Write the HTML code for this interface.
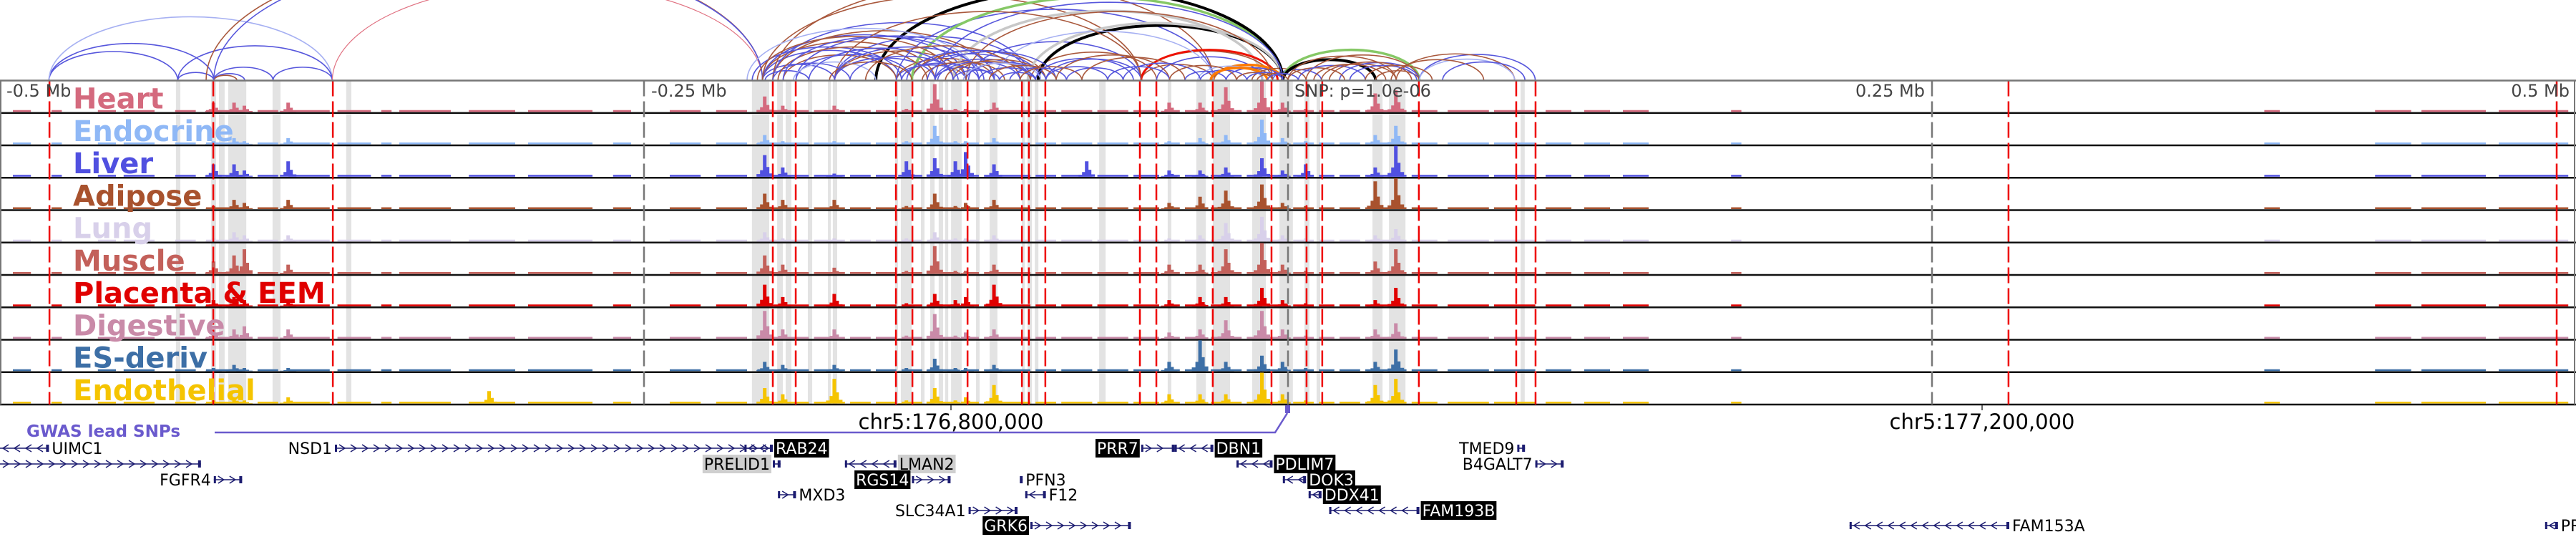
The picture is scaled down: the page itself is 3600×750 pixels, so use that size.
<!DOCTYPE html>
<html><head><meta charset="utf-8"><style>
html,body{margin:0;padding:0;background:#fff;width:3600px;height:750px;overflow:hidden}
svg{display:block}
text{font-family:"DejaVu Sans","Liberation Sans",sans-serif}
</style></head><body>
<svg id="chart" width="3600" height="750" viewBox="0 0 3600 750" xmlns="http://www.w3.org/2000/svg">
<g id="bands"></g>
<g id="arcs"></g>
<g id="tracks"></g>
<g id="vlines"></g>
<g id="labels"></g>
<g id="axis"></g>
<g id="genes"></g>
</svg>
<script>
// ---- data (genomic positions in kb relative to lead SNP) ----
const trackNames = ["Heart","Endocrine","Liver","Adipose","Lung","Muscle","Placenta & EEM","Digestive","ES-deriv","Endothelial"];
const trackColors = ["#d46a7e","#8fb8f6","#5050e0","#a8522e","#d8d0ea","#c3605a","#e00000","#c98aa8","#3d6fa6","#f5c400"];
const peakPos = [-417,-409,-405,-388,-310,-203,-196,-176,-148,-137,-129,-125,-114,-78,-46,-34,-24,-10,-2,7,34,42];
const peakHeart      = [0.3,0.3,0.2,0.3,0,0.5,0.2,0.2,0.1,0.9,0.1,0.1,0.3,0,0.3,0.3,0.8,1.0,0.3,0.1,0.6,0.7];
const peakEndocrine  = [0.1,0.2,0.1,0.2,0,0.3,0.1,0.1,0.1,0.6,0.1,0.1,0.2,0,0.1,0.2,0.3,0.8,0.2,0.1,0.3,0.6];
const peakLiver      = [0.4,0.4,0.2,0.5,0,0.7,0.3,0.1,0.5,0.6,0.5,0.8,0.4,0.5,0.2,0.2,0.3,0.6,0.2,0.4,0.3,1.0];
const peakAdipose    = [0.1,0.3,0.2,0.3,0,0.5,0.3,0.3,0.1,0.5,0.1,0.2,0.3,0,0.2,0.4,0.6,0.8,0.2,0.1,0.9,1.0];
const peakLung       = [0.1,0.3,0.2,0.2,0,0.3,0.1,0.1,0.1,0.3,0.1,0.1,0.2,0,0.1,0.2,0.6,0.8,0.2,0.1,0.2,0.4];
const peakMuscle     = [0.4,0.6,0.8,0.3,0,0.6,0.3,0.2,0.1,0.9,0.1,0.1,0.3,0,0.3,0.3,0.8,1.0,0.3,0.1,0.4,0.8];
const peakPlacenta   = [0.2,0.3,0.2,0.2,0,0.7,0.3,0.4,0.1,0.4,0.2,0.3,0.7,0,0.2,0.3,0.3,0.6,0.2,0.1,0.2,0.6];
const peakDigestive  = [0.3,0.3,0.4,0.3,0,0.9,0.3,0.3,0.1,0.8,0.1,0.2,0.3,0,0.2,0.3,0.6,0.9,0.3,0.1,0.3,0.5];
const peakES         = [0.1,0.2,0.1,0.1,0,0.3,0.2,0.2,0.1,0.4,0.1,0.1,0.2,0,0.3,1.0,0.3,0.5,0.3,0.1,0.3,0.7];
const peakEndothelial= [0.1,0.2,0.1,0.2,0.4,0.5,0.3,0.8,0.1,0.5,0.1,0.2,0.6,0,0.3,0.3,0.3,1.0,0.3,0.1,0.6,0.8];
const trackPeaks = [peakHeart,peakEndocrine,peakLiver,peakAdipose,peakLung,peakMuscle,peakPlacenta,peakDigestive,peakES,peakEndothelial];
const noiseStart = [-495,-480,-462,-452,-432,-420,-400,-388,-369,-352,-345,-318,-295,-262,-240,-222,-206,-184,-170,-160,-150,-140,-126,-118,-98,-88,-74,-60,-48,-40,-30,-16,-8,2,12,20,30,48,62,80,100,115,130,172,379,422,440,470];
const noiseEnd   = [-488,-476,-455,-440,-424,-405,-392,-372,-356,-348,-325,-300,-270,-255,-228,-210,-186,-172,-162,-152,-142,-128,-120,-100,-90,-76,-62,-50,-42,-32,-18,-10,0,10,18,28,46,58,78,96,110,125,140,176,385,436,465,497];
const bandStart = [-431.7,-418,-415,-411.4,-394.2,-365.6,-208.1,-198.3,-195,-186.4,-178.6,-176.7,-152.5,-150.3,-142.5,-138.9,-135.6,-133.1,-130.8,-121.1,-115.8,-103.3,-101.1,-98.3,-73.3,-46.7,-35.6,-29.2,-13.9,-3.3,6.4,11.1,32.8,39.2,90.3];
const bandEnd   = [-430,-416.1,-412.8,-404.4,-391.1,-363.6,-201.4,-196.1,-192.8,-184.7,-177.5,-175,-151.4,-146.1,-141.1,-137.2,-133.9,-131.9,-126.7,-119.7,-112.8,-102.2,-99.4,-96.9,-70.8,-45.3,-31.9,-22.5,-8.6,1.9,8.3,12.5,36.7,45.6,91.9];
const redLines = [-480.8,-417.2,-370.8,-200,-191.1,-152.2,-145.8,-124.4,-103.3,-100.6,-94.2,-57.5,-51.1,-29.2,-6.4,7.2,13.3,50.8,88.6,96.1,279.7,492.5];
const arcStart = [-481,-481,-481,-431,-431,-417,-417,-417,-394,-371,-420,-417,
 -204,-204,-204,-204,-200,-200,-196,-191,-176,-176,-176,-152,-152,-146,-146,-137,-137,-130,-125,-124,-204,-200,-152,-146,-94,-100,-97,-101,-130,-57,-57,-57,-51,-29,-29,-35,-24,-14,-6,-2,-2,0,7,13,20,34,51,42,51,-160,-137,-125,-114,-176,-191,-210,
 -208,-206,-203,-200,-198,-196,-192,-186,-178,-176,-170,-164,-150,-148,-142,-140,-136,-133,-130,-126,-120,-116,-112,-108,-104,-98,-94,-90,-86,-80,-70,-64,-46,-40,-34,-30,-20,-16,-12,-8,0,4,10,16,24,30,40,60];
const arcEnd   = [-417,-431,-371,-371,-417,-394,-405,-408,-371,-204,-204,-204,
 -176,-152,-137,-125,-114,-100,-152,-146,-137,-125,-100,-125,-114,-100,-94,-114,-100,-94,-94,-57,-57,-29,-29,-2,-57,-51,-2,-2,-10,-29,-6,-4,-10,-2,-6,-10,-2,7,13,51,34,42,51,42,51,51,96,88,88,-2,-2,-6,-29,-57,-114,-120,
 -150,-130,-186,-170,-140,-120,-160,-130,-146,-118,-128,-104,-120,-96,-110,-90,-104,-100,-112,-96,-98,-90,-98,-86,-80,-60,-70,-46,-64,-40,-46,-34,-20,-24,-16,-8,-6,-2,0,4,22,30,38,48,50,56,76,92];
const arcColor = [0,0,1,0,0,0,0,2,0,5,2,0,
 0,0,2,0,2,0,2,0,0,2,0,0,2,0,2,0,0,2,0,0,2,2,0,4,0,2,3,7,7,2,2,5,0,6,2,1,0,2,0,4,3,2,2,2,0,2,0,2,1,3,0,2,1,2,0,1,
 0,2,0,0,2,0,1,0,2,0,0,2,0,0,2,0,0,2,0,1,0,2,0,0,2,0,0,2,0,2,0,0,2,0,0,6,2,0,2,0,2,0,2,2,0,2,2,0];
const geneNames = ["UIMC1","NSD1","RAB24","ZNF346","PRELID1","LMAN2","FGFR4","RGS14","MXD3","PFN3","F12","SLC34A1","GRK6","PRR7","DBN1","PDLIM7","DOK3","DDX41","FAM193B","TMED9","B4GALT7","FAM153A","PROP1"];
const geneStart = [-505,-370,-211,-505,-200,-172,-417,-146,-198,-104,-102,-124,-100,-57,-44,-20,-2,8,16,89,96,218,488];
const geneEnd   = [-481,-200,-200,-422,-197,-152,-406,-131,-191,-103,-94,-105,-61,-44,-29,-6,7,13,51,92,107,280,493];
const geneRow   = [0,0,0,1,1,1,2,2,3,2,3,4,5,0,0,1,2,3,4,0,1,5,5];
const geneStrand= [-1,1,-1,1,1,-1,1,1,1,1,-1,1,1,1,-1,-1,-1,-1,-1,1,1,-1,-1];
const geneBox   = [0,0,1,0,2,2,0,1,0,0,0,0,1,1,1,1,1,1,1,0,0,0,0];
const geneLabelRight = [1,0,1,0,0,1,0,0,1,1,1,0,0,0,1,1,1,1,1,0,0,1,1];

// ---- scales ----
const NS="http://www.w3.org/2000/svg";
const xOf = kb => 1800 + kb*3.6;
const TOP=112.5, TH=45.25, NT=10;
const trackTop = i => TOP + i*TH;
const PEAKMAX = 43;
const arcH = span => 0.225*span;
function mk(tag, attrs, parent){const e=document.createElementNS(NS,tag);for(const k in attrs)e.setAttribute(k,attrs[k]);parent.appendChild(e);return e;}

const gBands=document.getElementById('bands'), gArcs=document.getElementById('arcs'),
 gTracks=document.getElementById('tracks'), gV=document.getElementById('vlines'),
 gLab=document.getElementById('labels'), gAxis=document.getElementById('axis'), gGenes=document.getElementById('genes');

for(let i=0;i<bandStart.length;i++){
  const r=mk('rect',{x:xOf(bandStart[i]),y:TOP,width:Math.max(2,xOf(bandEnd[i])-xOf(bandStart[i])),height:TH*NT,fill:'#e3e3e3'},gBands);
  
  
}

const arcPalette=['#5656dc','#a6b0f2','#a9583c','#000000','#86c866','#ee1100','#ff7a00','#c8c8c8'];
const arcWidth=[1.6,1.6,1.6,4,3.5,3,3.5,3.5];
for(let i=0;i<arcStart.length;i++){
  const x1=xOf(arcStart[i]), x2=xOf(arcEnd[i]);
  const rx=(x2-x1)/2, h=arcH(x2-x1);
  let col=arcPalette[arcColor[i]], w=arcWidth[arcColor[i]];
  if(arcColor[i]===5 && x2-x1>500){col='#e07080'; w=1.2;}
  const p=mk('path',{d:`M${x1} ${TOP} A${rx} ${h} 0 0 1 ${x2} ${TOP}`,fill:'none',stroke:col,'stroke-width':w},gArcs);
  
  
}

for(let t=0;t<NT;t++){
  const base=trackTop(t)+TH-1.5;
  const g=mk('g',{},gTracks);
  
  
  for(let i=0;i<noiseStart.length;i++){
    const r=mk('rect',{x:xOf(noiseStart[i]),y:base-2.5,width:xOf(noiseEnd[i])-xOf(noiseStart[i]),height:2.5,fill:trackColors[t]},g);
    
    
  }
  const vals=trackPeaks[t];
  for(let i=0;i<peakPos.length;i++){
    if(!vals[i])continue;
    const x=xOf(peakPos[i]), h=vals[i]*PEAKMAX;
    const pts=[[x-12,base],[x-12,base-h*0.12],[x-7,base-h*0.12],[x-7,base-h*0.3],[x-3,base-h*0.3],[x-3,base-h],[x+2,base-h],[x+2,base-h*0.45],[x+6,base-h*0.45],[x+6,base-h*0.15],[x+11,base-h*0.15],[x+11,base]].map(p=>p.join(',')).join(' ');
    const pg=mk('polygon',{points:pts,fill:trackColors[t]},g);
    
    
  }
  const ln=mk('line',{x1:0,x2:3600,y1:trackTop(t)+TH,y2:trackTop(t)+TH,stroke:'#111','stroke-width':2.5},g);
  
  
}
mk('line',{x1:0,x2:3600,y1:TOP,y2:TOP,stroke:'#777','stroke-width':2.5,},gAxis);
mk('line',{x1:1,x2:1,y1:TOP,y2:TOP+TH*NT,stroke:'#777','stroke-width':2,},gAxis);
mk('line',{x1:3598,x2:3598,y1:TOP,y2:TOP+TH*NT,stroke:'#777','stroke-width':2,},gAxis);

const tickKb=[-250,0,250];
for(const k of tickKb){
  const l=mk('line',{x1:xOf(k),x2:xOf(k),y1:TOP,y2:TOP+TH*NT,stroke:'#777','stroke-width':2.5,'stroke-dasharray':'22 7'},gV);
  
  
}
for(const k of redLines){
  const l=mk('line',{x1:xOf(k),x2:xOf(k),y1:TOP,y2:TOP+TH*NT,stroke:'#ee0000','stroke-width':2.5,'stroke-dasharray':'22 7'},gV);
  
  
}

for(let t=0;t<NT;t++){
  const tx=mk('text',{x:102,y:trackTop(t)+39,'font-size':40,'font-weight':'bold',fill:trackColors[t]},gLab);
  tx.textContent=trackNames[t];
  
  
}

const axisLabels=[["-0.5 Mb",9,'start'],["-0.25 Mb",910,'start'],["0.25 Mb",2690,'end'],["0.5 Mb",3591,'end'],["SNP: p=1.0e-06",1809,'start']];
for(const a of axisLabels){
  const tx=mk('text',{x:a[1],y:135,'font-size':24,fill:'#444','text-anchor':a[2]},gAxis);
  tx.textContent=a[0];
  
  
}
const coordLabels=[["chr5:176,800,000",1329],["chr5:177,200,000",2770]];
for(const c of coordLabels){
  mk('line',{x1:c[1],x2:c[1],y1:566,y2:573,stroke:'#333','stroke-width':1.5,},gAxis);
  const tx=mk('text',{x:c[1],y:599,'font-size':29,fill:'#000','text-anchor':'middle'},gAxis);
  tx.textContent=c[0];
  
  
}
const gw=mk('text',{x:37,y:610,'font-size':23,'font-weight':'bold',fill:'#6a5acd'},gAxis);
gw.textContent='GWAS lead SNPs';


mk('polyline',{points:`300,604 1782,604 1799,577`,fill:'none',stroke:'#6a5acd','stroke-width':2.5,},gAxis);
mk('rect',{x:1796,y:566,width:7,height:11,fill:'#6a5acd',},gAxis);

const rowY=[626,648,670,691,713,734];
const NAVY='#1c1c70';
for(let i=0;i<geneNames.length;i++){
  const g=mk('g',{},gGenes);
  
  
  const x1=xOf(geneStart[i]), x2=xOf(geneEnd[i]), y=rowY[geneRow[i]];
  mk('line',{x1:x1,x2:x2,y1:y,y2:y,stroke:NAVY,'stroke-width':1.6},g);
  const s=geneStrand[i];
  for(let x=x1+10;x<x2-6;x+=16){
    mk('polyline',{points:`${x-4*s},${y-5} ${x+4*s},${y} ${x-4*s},${y+5}`,fill:'none',stroke:NAVY,'stroke-width':1.5},g);
  }
  mk('rect',{x:x1,y:y-5,width:3,height:10,fill:NAVY},g);
  mk('rect',{x:x2-4,y:y-5,width:4,height:10,fill:NAVY},g);
  const right=geneLabelRight[i];
  const lx= right ? x2+4 : x1-4;
  const tx=mk('text',{x:lx,y:y+8,'font-size':22,fill:geneBox[i]===1?'#fff':'#000','text-anchor':right?'start':'end'},g);
  tx.textContent=geneNames[i];
  if(geneBox[i]){
    const w=tx.getComputedTextLength();
    const bx= right ? lx-2 : lx-w-2;
    const r=document.createElementNS(NS,'rect');
    r.setAttribute('x',bx);r.setAttribute('y',y-13);r.setAttribute('width',w+4);r.setAttribute('height',26);
    r.setAttribute('fill',geneBox[i]===1?'#000':'#cfcfcf');
    g.insertBefore(r,tx);
  }
}
</script>
</body></html>
